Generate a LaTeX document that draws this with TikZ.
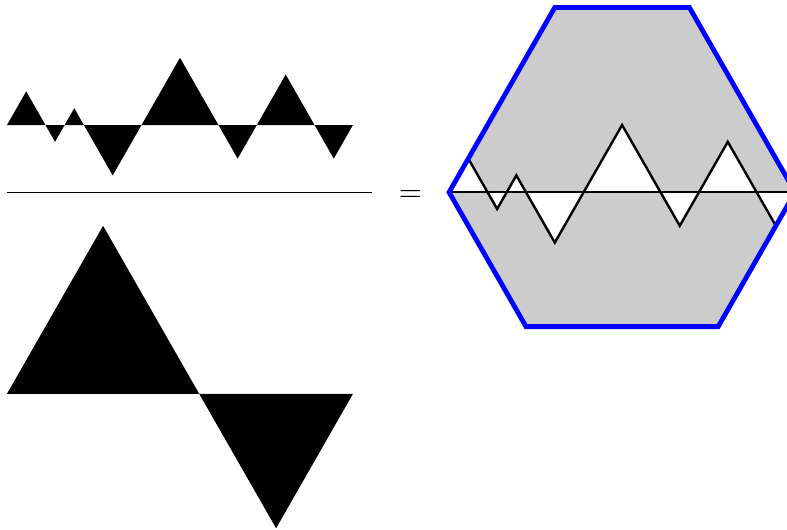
\documentclass[tikz,border=0pt]{standalone}
\begin{document}
\begin{tikzpicture}[x=6.407pt, y=5.6pt,
  tri/.style={fill=black},
  hexa/.style={fill=black!20},
  rim/.style={draw=blue, ultra thick, line join=miter},
  zig/.style={draw=black, thick}]
  \useasboundingbox (-0.364,-24.05) rectangle (40.58,7.44);

  % numerator
  \fill[tri] (0,0) -- (1,2) -- (2.5,-1) -- (3.5,1) -- (5.5,-3) -- (9,4)
    -- (12,-2) -- (14.5,3) -- (17,-2) -- (18,0) -- cycle;

  % denominator
  \fill[tri] (0,-16) -- (5,-6) -- (14,-24) -- (18,-16) -- cycle;

  % fraction bar
  \coordinate (fl) at (0,-4);
  \coordinate (fr) at (19,-4);
  \draw (fl) -- (fr);

  \node (eq) at (21,-4.2) {$=$};

  % hexagon
  \coordinate (h1) at (23,-4);
  \coordinate (h2) at (28.5,7);
  \coordinate (h3) at (35.5,7);
  \coordinate (h4) at (41,-4);
  \coordinate (h5) at (37,-12);
  \coordinate (h6) at (27,-12);

  \fill[hexa] (h1) -- (h2) -- (h3) -- (h4) -- (h5) -- (h6) -- cycle;

  \begin{scope}[shift={(h1)}]
    \fill[white] (0,0) -- (1,2) -- (2.5,-1) -- (3.5,1) -- (5.5,-3) -- (9,4)
      -- (12,-2) -- (14.5,3) -- (17,-2) -- (18,0) -- cycle;
    \draw[zig] (0,0) -- (1,2) -- (2.5,-1) -- (3.5,1) -- (5.5,-3) -- (9,4)
      -- (12,-2) -- (14.5,3) -- (17,-2) -- (18,0);
  \end{scope}
  \draw[zig] (h1) -- (h4);

  \draw[rim] (h1) -- (h2) -- (h3) -- (h4) -- (h5) -- (h6) -- cycle;
\end{tikzpicture}
\end{document}
